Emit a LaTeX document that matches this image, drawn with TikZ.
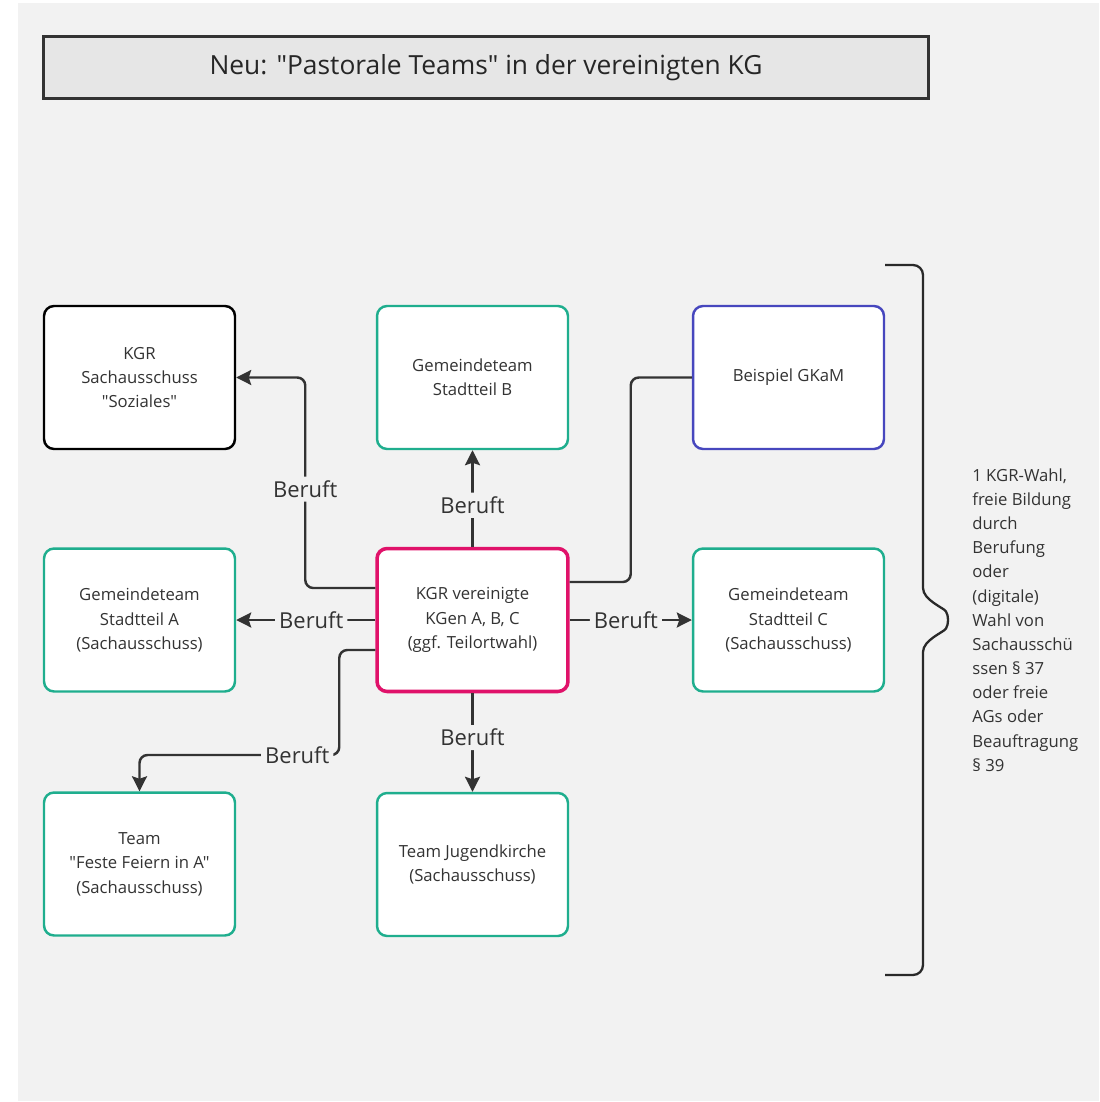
\documentclass[tikz,border=0pt]{standalone}
\usepackage{fontspec}
\setmainfont{Open Sans}[Ligatures=TeXOff]
\usepackage{tikz}
\usetikzlibrary{arrows.meta}

\definecolor{bggray}{HTML}{F2F2F2}
\definecolor{titlegray}{HTML}{E6E6E6}
\definecolor{teal}{HTML}{1FAE8E}
\definecolor{violet}{HTML}{4747BE}
\definecolor{magenta}{HTML}{E0126A}
\definecolor{ink}{HTML}{333333}

\tikzset{
  box/.style={shape=rectangle, draw=black, fill=white, rounded corners=0.2cm, line width=1.4pt,
    minimum width=3.82cm, minimum height=2.86cm, align=center, text=ink,
    font=\fontsize{9.5}{13.9}\selectfont},
  tealbox/.style={box, draw=teal},
  conn/.style={draw=ink, line width=1.4pt, rounded corners=0.16cm},
  arr/.style={conn, -{Stealth[length=0.3cm, width=0.3cm, inset=0.05cm]}},
  lbl/.style={fill=bggray, text=ink, inner sep=0.08cm, font=\fontsize{12.5}{15}\selectfont}
}

\begin{document}
\begin{tikzpicture}[x=0.02cm, y=-0.02cm]
\useasboundingbox (0,0) rectangle (1099,1102);
\fill[bggray] (18,3) rectangle (1099,1101);

% title
\node[shape=rectangle, draw=ink, fill=titlegray, line width=1.4pt, minimum width=17.7cm,
  minimum height=1.24cm, text=black!85, font=\fontsize{15}{18}\selectfont](title) at (486,67.5)
  {Neu: "Pastorale Teams" in der vereinigten KG};

% boxes
\node[box](sozial) at (139.5,377.5) {KGR\\Sachausschuss\\"Soziales"};
\node[tealbox](gemB) at (472.5,377.5) {Gemeindeteam\\Stadtteil B};
\node[box, draw=violet](gkam) at (788.5,377.5) {Beispiel GKaM};
\node[tealbox](gemA) at (139.5,620) {Gemeindeteam\\Stadtteil A\\(Sachausschuss)};
\node[box, draw=magenta, line width=2pt](kgr) at (472.5,620) {KGR vereinigte\\KGen A, B, C\\(ggf. Teilortwahl)};
\node[tealbox](gemC) at (788.5,620) {Gemeindeteam\\Stadtteil C\\(Sachausschuss)};
\node[tealbox](feste) at (139.5,864) {Team\\"Feste Feiern in A"\\(Sachausschuss)};
\node[tealbox](jugend) at (472.5,864.5) {Team Jugendkirche\\(Sachausschuss)};

% connectors
\draw[arr] ([yshift=0.64cm]kgr.west) -- ++(-70,0) |- node[lbl, pos=0.235] {Beruft} (sozial.east);
\draw[arr] (kgr.north) -- node[lbl, pos=0.43] {Beruft} (gemB.south);
\draw[conn] ([yshift=0.76cm]kgr.east) -- ++(61,0) |- (gkam.west);
\draw[arr] (kgr.west) -- node[lbl, pos=0.46] {Beruft} (gemA.east);
\draw[arr] (kgr.east) -- node[lbl, pos=0.46] {Beruft} (gemC.west);
\draw[arr] ([yshift=-0.6cm]kgr.west) -- ++(-36,0) -- ++(0,105) -| node[lbl, pos=0.105] {Beruft} (feste.north);
\draw[arr] (kgr.south) -- node[lbl, pos=0.45] {Beruft} (jugend.north);

% brace
\draw[draw=ink!80!black, line width=1.3pt, line join=round, rounded corners=0.2cm]
  (885,265) -- (923,265) -- (923,578)
  .. controls (923,600) and (944,608) .. (951,620)
  .. controls (944,632) and (923,640) .. (923,662)
  -- (923,975) -- (885,975);
\node[anchor=west, align=left, text=ink, inner sep=0pt, font=\fontsize{9.5}{13.75}\selectfont](note) at (972,620)
  {1 KGR-Wahl,\\freie Bildung\\durch\\Berufung\\oder\\(digitale)\\Wahl von\\Sachausschü\\ssen § 37\\oder freie\\AGs oder\\Beauftragung\\§ 39};
\end{tikzpicture}
\end{document}
